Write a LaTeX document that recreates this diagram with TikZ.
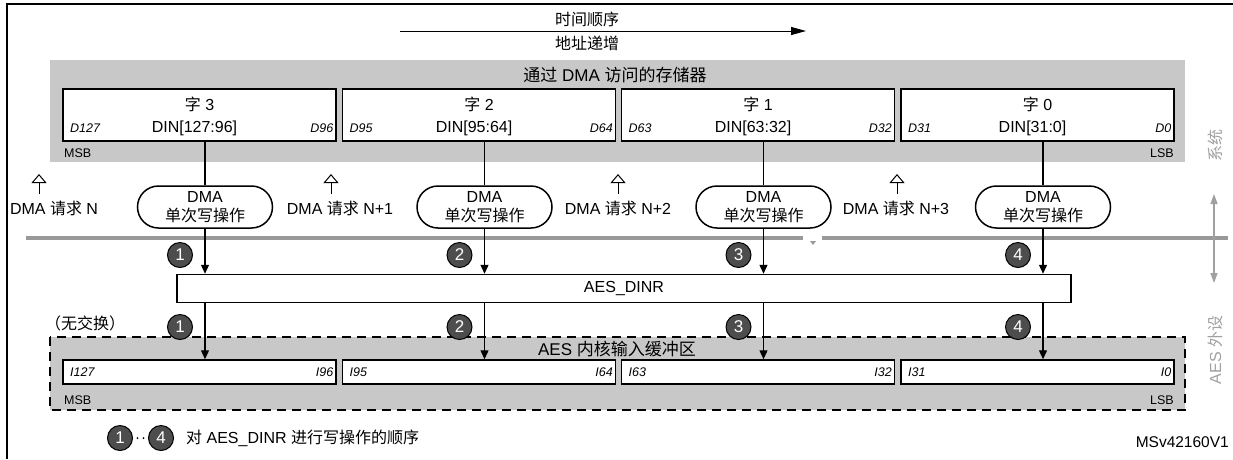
\documentclass[tikz,border=0pt]{standalone}
\usepackage{fontspec}
\setmainfont{Liberation Sans}
\newfontfamily\cjk{Noto Sans CJK SC}
\usetikzlibrary{arrows.meta,shapes.misc}
\definecolor{regiongray}{HTML}{C8C8C8}
\definecolor{numgray}{HTML}{4D4D4D}
\definecolor{busgray}{HTML}{999999}
\definecolor{sidegray}{HTML}{A0A0A0}
\newcommand{\zh}[1]{{\cjk #1}}
\begin{document}
\begin{tikzpicture}[x=1pt,y=-1pt,
  every node/.style={font=\fontsize{16}{19}\selectfont, inner sep=0pt},
  small/.style={font=\fontsize{12.5}{14}\selectfont},
  smallit/.style={font=\fontsize{12.5}{14}\selectfont\itshape},
  wordbox/.style={draw, line width=1.5pt, fill=white, minimum width=273pt, minimum height=52pt},
  bufbox/.style={draw, line width=1.5pt, fill=white, minimum width=273pt, minimum height=24pt},
  pill/.style={rounded rectangle, draw, line width=1.5pt, fill=white, minimum width=135pt, minimum height=42pt, align=center},
  num/.style={circle, draw=black, line width=1pt, fill=numgray, text=white, minimum size=25pt, font=\fontsize{17}{19}\selectfont},
  conn/.style={line width=1.3pt, -{Triangle[length=9pt,width=8pt]}},
  plain/.style={line width=1.3pt},
  req/.style={line width=1pt, -{Triangle[open,length=9pt,width=15pt]}}]
\useasboundingbox (0,0) rectangle (1233,459);
% frame
\draw[line width=2.5pt, line join=miter] (7,459) -- (7,4) -- (1233,4);
% time / address arrow
\node (t1) at (587,19) {\zh{时间顺序}};
\node (t2) at (587,43) {\zh{地址递增}};
\coordinate (ta) at (400,31);
\coordinate (tb) at (806,31);
\draw[line width=1pt, -{Triangle[length=15pt,width=8pt]}] (ta) -- (tb);
% memory region
\fill[regiongray] (50,60) rectangle (1185,162);
\node[font=\fontsize{17}{19}\selectfont] (memt) at (615,75) {\zh{通过} DMA \zh{访问的存储器}};
\node[small, anchor=west] (msb1) at (64,153) {MSB};
\node[small, anchor=east] (lsb1) at (1174,153) {LSB};
% bus line
\draw[busgray, line width=4pt] (26,238) -- (803,238);
\draw[busgray, line width=4pt] (822,238) -- (1228,238);
\fill[busgray] (810,241) -- (816,241) -- (813,245) -- cycle;
% side arrow and labels
\coordinate (sa) at (1214,194);
\coordinate (sb) at (1214,283);
\draw[sidegray, line width=1.2pt, {Triangle[length=10pt,width=7pt]}-{Triangle[length=10pt,width=7pt]}] (sa) -- (sb);
\node[rotate=90, text=sidegray] (sys) at (1215,145) {\zh{系统}};
\node[rotate=90, text=sidegray] (per) at (1215,350) {AES \zh{外设}};
% buffer region
\filldraw[fill=regiongray, draw=black, dash pattern=on 9pt off 6pt, line width=1.5pt] (50,337) rectangle (1185,410);
\node[font=\fontsize{17}{19}\selectfont] (buft) at (617,349) {AES \zh{内核输入缓冲区}};
\node[small, anchor=west] (msb2) at (64,400) {MSB};
\node[small, anchor=east] (lsb2) at (1174,400) {LSB};
% AES_DINR
\node[draw, line width=1.5pt, fill=white, minimum width=894pt, minimum height=28pt] (d) at (624,288.5) {AES\_DINR};
\node[anchor=west] (noswap) at (45,323) {\zh{（无交换）}};
% columns
\foreach \i/\k/\cx/\din/\dl/\dr/\rl/\rx/\ax in {3/1/199.5/127:96/127/96/N/54/39, 2/2/479/95:64/95/64/N+1/340/331, 1/3/758/63:32/63/32/N+2/618/618, 0/4/1037.5/31:0/31/0/N+3/896/897} {
  \node[wordbox] (w\i) at (\cx,115) {};
  \node (wt\i) at (\cx,104) {\zh{字} \i};
  \node (wd\i) at (\cx-5,128) {DIN[\din]};
  \node[smallit, anchor=west] (wl\i) at (\cx-129.5,128) {D\dl};
  \node[smallit, anchor=east] (wr\i) at (\cx+134,128) {D\dr};
  \node[pill] (p\i) at (\cx+5.5,207) {DMA\\\zh{单次写操作}};
  \draw[plain] (p\i.north |- w\i.south) -- (p\i.north);
  \draw[conn] (p\i.south) -- (p\i.south |- d.north);
  \node[bufbox] (b\i) at (\cx,372) {};
  \node[smallit, anchor=west] (bl\i) at (\cx-129.5,372) {I\dl};
  \node[smallit, anchor=east] (br\i) at (\cx+134,372) {I\dr};
  \draw[conn] (p\i.south |- d.south) -- (p\i.south |- b\i.north);
  \node[num] (na\k) at (\cx-19.5,255) {\k};
  \node[num] (nb\k) at (\cx-19.5,327) {\k};
  \node (rq\k) at (\rx,208) {DMA \zh{请求} \rl};
  \coordinate (ub\k) at (\ax,194);
  \coordinate (ut\k) at (\ax,174);
  \draw[req] (ub\k) -- (ut\k);
}
% legend
\node[num] (l1) at (120,438) {1};
\node[num] (l4) at (161,438) {4};
\draw[line width=2pt, line cap=round, dash pattern=on 0pt off 6pt] ([xshift=4.5pt]l1.east) -- ([xshift=-4pt]l4.west);
\node[anchor=west] (lt) at (186,438) {\zh{对} AES\_DINR \zh{进行写操作的顺序}};
\node[anchor=east, font=\fontsize{15.5}{17}\selectfont] (id) at (1229,442) {MSv42160V1};
\end{tikzpicture}
\end{document}
